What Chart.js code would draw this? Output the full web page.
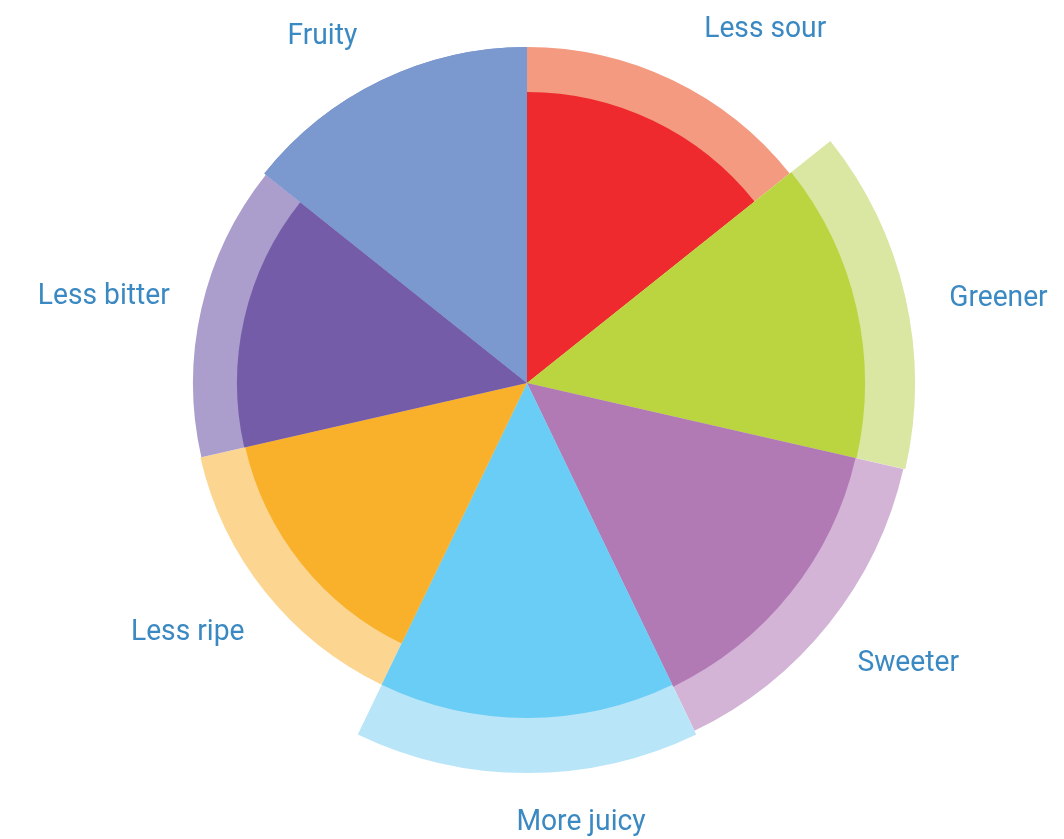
<!DOCTYPE html>
<html>
<head>
<meta charset="utf-8">
<script src="https://cdn.jsdelivr.net/npm/chart.js@4/dist/chart.umd.min.js"></script>
<style>
  html, body { margin: 0; padding: 0; background: #fff; }
  #wrap { width: 1064px; height: 839px; position: relative; }
</style>
</head>
<body>
<div id="wrap"><canvas id="chart_flavourWheel"></canvas></div>
<script>
// categories, clockwise from 12 o'clock
var categories = ['Less sour', 'Greener', 'Sweeter', 'More juicy', 'Less ripe', 'Less bitter', 'Fruity'];
// solid wedge value and the lighter outer ring value, same units as the radial scale
var innerValues = [291, 338, 337, 335, 289, 290, 336];
var outerValues = [336, 388, 386, 390, 335, 334, 336];

var innerColors = ['#ee2a2e', '#bad540', '#b27ab5', '#6acdf5', '#f9b12b', '#755ca9', '#7b98cf'];
var outerColors = ['#f39a80', '#d9e7a2', '#d3b4d6', '#b9e5f8', '#fcd590', '#ab9dcc', '#7b98cf'];

// where each label sits: angle clockwise from top (deg) and distance from centre (scale units)
var labelAngles = [34, 79.8, 126.3, 173, 233.7, 281.6, 329.4];
var labelDistances = [426, 479, 473, 443, 421, 432, 402];

var chart_flavourWheel = new Chart(document.getElementById('chart_flavourWheel'), {
    type: 'polarArea',
    data: {
        labels: categories,
        datasets: [
            {
                label: 'Score',
                data: innerValues,
                backgroundColor: innerColors,
                borderWidth: 0,
                clip: false
            },
            {
                label: 'Range',
                data: outerValues,
                backgroundColor: outerColors,
                borderWidth: 0,
                clip: false
            }
        ]
    },
    options: {
        animation: false,
        responsive: true,
        maintainAspectRatio: false,
        layout: {
            padding: { left: 0, right: 10, top: 0, bottom: 73 }
        },
        plugins: {
            legend: { display: false },
            tooltip: { enabled: false }
        },
        scales: {
            r: {
                min: 0,
                max: 383,
                ticks: { display: false },
                grid: { display: false },
                angleLines: { display: false },
                pointLabels: { display: false }
            }
        }
    },
    plugins: [{
        id: 'outerLabels',
        afterDraw: (chart) => {
            const ctx = chart.ctx;
            const scale = chart.scales.r;
            ctx.save();
            ctx.font = '30px Roboto, "Liberation Sans", sans-serif';
            ctx.fillStyle = '#3b89c2';
            ctx.textAlign = 'center';
            ctx.textBaseline = 'middle';
            categories.forEach((label, i) => {
                const a = labelAngles[i] * Math.PI / 180;
                const d = scale.getDistanceFromCenterForValue(labelDistances[i]);
                const x = scale.xCenter + d * Math.sin(a);
                const y = scale.yCenter - d * Math.cos(a);
                ctx.save();
                ctx.translate(x, y);
                ctx.scale(0.94, 1);
                ctx.fillText(label, 0, 0);
                ctx.restore();
            });
            ctx.restore();
        }
    }]
});
</script>
</body>
</html>
